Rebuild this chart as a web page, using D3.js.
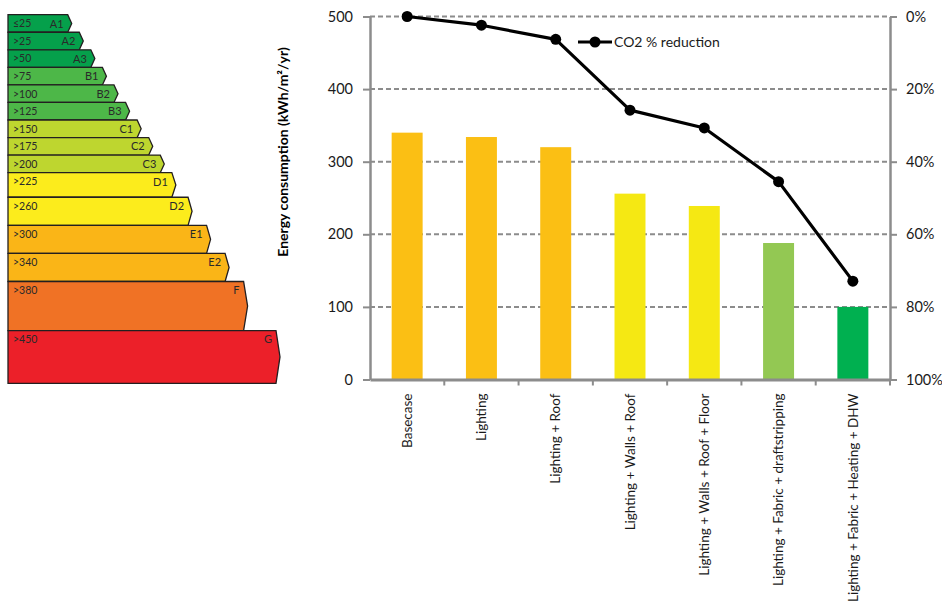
<!DOCTYPE html>
<html>
<head>
<meta charset="utf-8">
<script src="https://cdn.jsdelivr.net/npm/d3@7"></script>
<style>
  body { margin: 0; background: #fff; }
  svg { display: block; }
</style>
</head>
<body>
<svg id="chart" width="942" height="608"></svg>
<script>
// Energy rating bands (kWh/m²/yr)
const bandGrades = ["A1","A2","A3","B1","B2","B3","C1","C2","C3","D1","D2","E1","E2","F","G"];
const bandLabels = ["≤25",">25",">50",">75",">100",">125",">150",">175",">200",">225",">260",">300",">340",">380",">450"];
const bandFrom   = [0,25,50,75,100,125,150,175,200,225,260,300,340,380,450];
const bandTo     = [25,50,75,100,125,150,175,200,225,260,300,340,380,450,525];
const bandColors = ["#05A04B","#05A04B","#05A04B","#4DB748","#4DB748","#4DB748",
                    "#BED62F","#BED62F","#BED62F","#FCEC1C","#FCEC1C","#FAB517","#FAB517",
                    "#F07225","#EC2029"];

// Retrofit scenarios
const scenarios = ["Basecase","Lighting","Lighting + Roof","Lighting + Walls + Roof",
                   "Lighting + Walls + Roof + Floor","Lighting + Fabric + draftstripping",
                   "Lighting + Fabric + Heating + DHW"];
const energyUse    = [340, 334, 320, 256, 239, 188, 100];
const co2Reduction = [0, 2.4, 6.3, 25.8, 30.7, 45.5, 72.9];
const barColors    = ["#FBBF14","#FBBF14","#FBBF14","#F5E813","#F5E813","#93C853","#00B050"];
const energyTicks    = [0, 100, 200, 300, 400, 500];
const reductionTicks = [0, 20, 40, 60, 80, 100];

const svg = d3.select("#chart");
const FONT = "Lato, 'Open Sans', sans-serif";
const AXIS_GREY = "#8c8c8c";

// ---- Rating scale (left) ----
const bandY   = d3.scaleLinear().domain([0, 525]).range([14.7, 383.3]);
const bandTip = d3.scaleLinear().domain([0, 450]).range([71.7, 280]);
const scaleLeft = 8, tipDepth = 4;

const rating = svg.append("g").attr("class", "rating");
const rows = rating.selectAll("g.band")
  .data(bandGrades.map((g, i) => ({ grade: g, label: bandLabels[i], from: bandFrom[i], to: bandTo[i], color: bandColors[i] })))
  .join("g").attr("class", "band");

rows.append("path")
  .attr("d", d => {
    const y0 = bandY(d.from), y1 = bandY(d.to), tip = bandTip(d.from);
    return `M${scaleLeft},${y0}L${tip - tipDepth},${y0}L${tip},${(y0 + y1) / 2}L${tip - tipDepth},${y1}L${scaleLeft},${y1}Z`;
  })
  .attr("fill", d => d.color)
  .attr("stroke", "#231F20")
  .attr("stroke-width", 1.3)
  .attr("stroke-linejoin", "miter");

rows.append("text")
  .attr("x", scaleLeft + 5)
  .attr("y", d => bandY(d.from) + 9)
  .attr("dy", "0.35em")
  .attr("font-family", FONT)
  .attr("font-size", 10.5)
  .attr("fill", "#2a2a2a")
  .text(d => d.label);

rows.append("text")
  .attr("x", d => bandTip(d.from) - 8)
  .attr("y", d => bandY(d.from) + 9)
  .attr("dy", "0.35em")
  .attr("text-anchor", "end")
  .attr("font-family", FONT)
  .attr("font-size", 11)
  .attr("fill", "#2a2a2a")
  .text(d => d.grade);

// ---- Scenario chart ----
const plot = { left: 370, right: 890, top: 16.5, bottom: 379.5 };

const x = d3.scaleBand().domain(scenarios)
  .range([plot.left, plot.right])
  .paddingInner(0.583).paddingOuter(0.2915);
const y  = d3.scaleLinear().domain([0, 500]).range([plot.bottom, plot.top]);
const y2 = d3.scaleLinear().domain([0, 100]).range([plot.top, plot.bottom]);

// dashed gridlines
svg.append("g").attr("class", "grid")
  .selectAll("line")
  .data(energyTicks.filter(v => v > 0))
  .join("line")
  .attr("x1", plot.left).attr("x2", plot.right)
  .attr("y1", d => y(d)).attr("y2", d => y(d))
  .attr("stroke", AXIS_GREY)
  .attr("stroke-width", 2)
  .attr("stroke-dasharray", "5,3");

// bars
svg.append("g").attr("class", "bars")
  .selectAll("rect")
  .data(scenarios)
  .join("rect")
  .attr("x", d => x(d))
  .attr("width", x.bandwidth())
  .attr("y", (d, i) => y(energyUse[i]))
  .attr("height", (d, i) => y(0) - y(energyUse[i]))
  .attr("fill", (d, i) => barColors[i]);

// left axis
const yAxis = svg.append("g")
  .attr("transform", `translate(${plot.left},0)`)
  .call(d3.axisLeft(y).tickValues(energyTicks).tickSize(7).tickPadding(10).tickSizeOuter(0));
yAxis.select(".domain").attr("stroke", AXIS_GREY).attr("stroke-width", 2.5);
yAxis.selectAll(".tick line").attr("stroke", AXIS_GREY).attr("stroke-width", 2);
yAxis.selectAll(".tick text").attr("font-family", FONT).attr("font-size", 14.5).attr("fill", "#1a1a1a");

// right axis (CO2 reduction, inverted)
const y2Axis = svg.append("g")
  .attr("transform", `translate(${plot.right},0)`)
  .call(d3.axisRight(y2).tickValues(reductionTicks).tickFormat(d => d + "%").tickSize(7).tickPadding(9).tickSizeOuter(0));
y2Axis.select(".domain").attr("stroke", AXIS_GREY).attr("stroke-width", 2.5);
y2Axis.selectAll(".tick line").attr("stroke", AXIS_GREY).attr("stroke-width", 2);
y2Axis.selectAll(".tick text").attr("font-family", FONT).attr("font-size", 14.5).attr("fill", "#1a1a1a");

// bottom axis with category labels
const xAxis = svg.append("g")
  .attr("transform", `translate(0,${plot.bottom})`)
  .call(d3.axisBottom(x).tickSize(0).tickSizeOuter(0));
xAxis.select(".domain").attr("stroke", AXIS_GREY).attr("stroke-width", 3);
xAxis.selectAll(".tick text")
  .attr("transform", "rotate(-90)")
  .attr("x", -14)
  .attr("y", 0)
  .attr("dy", "0.35em")
  .attr("text-anchor", "end")
  .attr("font-family", FONT)
  .attr("font-size", 13.5)
  .attr("fill", "#1a1a1a");

// category boundary tick marks
const step = x.step();
xAxis.append("g").selectAll("line")
  .data(scenarios)
  .join("line")
  .attr("x1", d => x(d) + x.bandwidth() / 2 + step / 2)
  .attr("x2", d => x(d) + x.bandwidth() / 2 + step / 2)
  .attr("y1", 0).attr("y2", 6)
  .attr("stroke", AXIS_GREY).attr("stroke-width", 2);

// CO2 reduction line
const cx = d => x(d) + x.bandwidth() / 2;
const line = d3.line().x(d => cx(d[0])).y(d => y2(d[1]));
const pts = scenarios.map((s, i) => [s, co2Reduction[i]]);
svg.append("path")
  .datum(pts)
  .attr("d", line)
  .attr("fill", "none")
  .attr("stroke", "#000")
  .attr("stroke-width", 3.2)
  .attr("stroke-linejoin", "round");
svg.append("g").selectAll("circle")
  .data(pts)
  .join("circle")
  .attr("cx", d => cx(d[0]))
  .attr("cy", d => y2(d[1]))
  .attr("r", 5.5)
  .attr("fill", "#000");

// legend
const legend = svg.append("g").attr("transform", "translate(578,42)");
legend.append("line").attr("x1", 0).attr("x2", 34).attr("y1", 0).attr("y2", 0)
  .attr("stroke", "#000").attr("stroke-width", 3.2);
legend.append("circle").attr("cx", 17).attr("cy", 0).attr("r", 5.5).attr("fill", "#000");
legend.append("text").attr("x", 36).attr("y", 0).attr("dy", "0.35em")
  .attr("font-family", FONT).attr("font-size", 14).attr("fill", "#1a1a1a")
  .text("CO2 % reduction");

// y-axis title
svg.append("text")
  .attr("transform", "translate(283,152) rotate(-90)")
  .attr("text-anchor", "middle")
  .attr("dy", "0.35em")
  .attr("font-family", FONT)
  .attr("font-weight", "bold")
  .attr("font-size", 14)
  .attr("fill", "#000")
  .text("Energy consumption (kWh/m²/yr)");
</script>
</body>
</html>
